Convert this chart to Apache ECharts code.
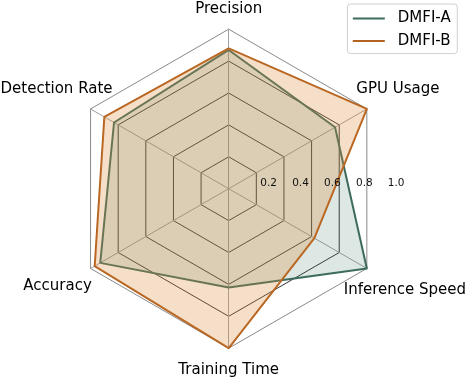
<!DOCTYPE html>
<html>
<head>
<meta charset="utf-8">
<script src="https://cdn.jsdelivr.net/npm/echarts@6/dist/echarts.min.js"></script>
<style>
  html, body { margin: 0; padding: 0; background: #fff; }
  #chart { width: 468px; height: 378px; }
</style>
</head>
<body>
<div id="chart"></div>
<script>
// indicators in drawing order (echarts radar runs counter-clockwise from the top)
const indicatorNames = ['Precision', 'Detection Rate', 'Accuracy', 'Training Time', 'Inference Speed', 'GPU Usage']
const dmfiA = [0.87, 0.83, 0.93, 0.62, 1.0, 0.77]
const dmfiB = [0.88, 0.90, 0.97, 1.0, 0.62, 1.0]
const seriesNames = ['DMFI-A', 'DMFI-B']
const radialTicks = [0.2, 0.4, 0.6, 0.8, 1.0]

const colorA = '#3d6b5e'
const colorB = '#b4621f'

// nudge each axis name so it sits centred like the original labels
const nameKeys = {
  'Precision': 'top',
  'Detection Rate': 'ul',
  'Accuracy': 'll',
  'Training Time': 'bottom',
  'Inference Speed': 'lr',
  'GPU Usage': 'ur'
}

const center = [228.7, 188.7]
const radius = 159.5

const chart = echarts.init(document.getElementById('chart'))

const option = {
  backgroundColor: '#fff',
  animation: false,
  textStyle: { fontFamily: 'DejaVu Sans' },
  legend: {
    data: seriesNames.map((n, i) => ({
      name: n,
      itemStyle: { color: i === 0 ? colorA : colorB }
    })),
    orient: 'vertical',
    right: 10.7,
    top: 4,
    padding: [7, 6.6, 5, 5.4],
    itemGap: 7.6,
    itemWidth: 32,
    itemHeight: 2,
    icon: 'rect',
    borderColor: '#d0d0d0',
    borderWidth: 1,
    borderRadius: 3,
    backgroundColor: '#fff',
    textStyle: {
      fontSize: 15,
      color: '#000',
      padding: [0, 0, 0, 8]
    }
  },
  radar: {
    center: center,
    radius: radius,
    startAngle: 90,
    splitNumber: 5,
    shape: 'polygon',
    indicator: indicatorNames.map(n => ({ name: n, min: 0, max: 1 })),
    nameGap: 22,
    axisName: {
      color: '#000',
      fontSize: 15,
      align: 'center',
      verticalAlign: 'middle',
      formatter: (name) => '{' + nameKeys[name] + '|' + name + '}',
      rich: {
        top: { fontSize: 15, padding: [4, 0, 0, 0] },
        bottom: { fontSize: 15, padding: [0, 0, 0, 0] },
        ur: { fontSize: 15, padding: [0, 0, 18, 24] },
        lr: { fontSize: 15, padding: [22, 0, 0, 38] },
        ll: { fontSize: 15, padding: [14, 28, 0, 0] },
        ul: { fontSize: 15, padding: [0, 30, 18, 0] }
      }
    },
    axisLine: { lineStyle: { color: '#a0a0a0', width: 1 } },
    splitLine: {
      lineStyle: {
        // first entry is the centre point, last one the outer frame
        color: ['#333', '#333', '#333', '#333', '#333', '#8a8a8a'],
        width: 1
      }
    },
    splitArea: { show: false }
  },
  polar: {
    center: center,
    radius: radius
  },
  angleAxis: {
    type: 'value',
    startAngle: 0,
    min: 0,
    max: 360,
    show: false
  },
  radiusAxis: {
    type: 'value',
    min: 0,
    max: 1,
    interval: 0.2,
    z: 10,
    axisLine: { show: false },
    axisTick: { show: false },
    splitLine: { show: false },
    axisLabel: {
      showMinLabel: false,
      margin: 0,
      fontSize: 10.5,
      color: '#111',
      padding: [0, 0, 0, 16],
      formatter: (v) => radialTicks.includes(+v.toFixed(1)) ? v.toFixed(1) : ''
    }
  },
  series: [
    {
      type: 'radar',
      symbol: 'none',
      data: [
        {
          name: seriesNames[0],
          value: dmfiA,
          lineStyle: { color: colorA, width: 2 },
          itemStyle: { color: colorA },
          areaStyle: { color: 'rgba(61,120,100,0.25)' }
        },
        {
          name: seriesNames[1],
          value: dmfiB,
          lineStyle: { color: colorB, width: 2 },
          itemStyle: { color: colorB },
          areaStyle: { color: 'rgba(220,140,60,0.4)' }
        }
      ]
    }
  ]
}

chart.setOption(option)

window.addEventListener('resize', () => chart.resize())
</script>
</body>
</html>
